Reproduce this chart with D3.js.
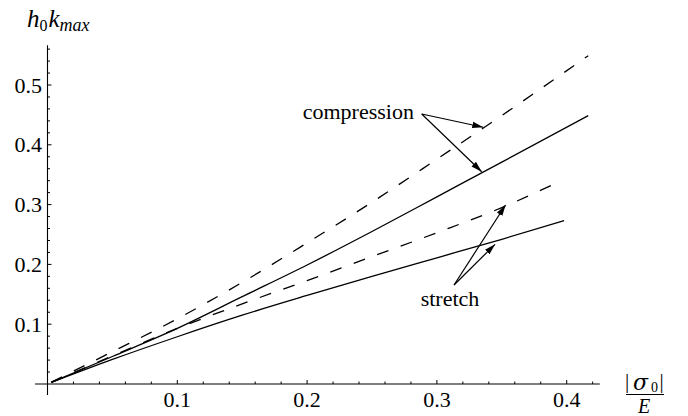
<!DOCTYPE html>
<html><head><meta charset="utf-8">
<script src="https://cdn.jsdelivr.net/npm/d3@7"></script>
</head>
<body style="margin:0"><svg id="chart" width="688" height="416"></svg>
<script>
// ---- data ----
const compressionX = [0.003, 0.05, 0.1, 0.15, 0.2, 0.25, 0.3, 0.35, 0.4166];
const compressionDashed = [0.0033, 0.054, 0.109, 0.170, 0.236, 0.304, 0.376, 0.449, 0.549];
const compressionSolid  = [0.0028, 0.046, 0.093, 0.146, 0.199, 0.255, 0.313, 0.371, 0.4487];
const stretchDashedX = [0.003, 0.05, 0.1, 0.15, 0.2, 0.25, 0.3, 0.35, 0.39];
const stretchDashed  = [0.0028, 0.047, 0.093, 0.134, 0.173, 0.213, 0.253, 0.295, 0.334];
const stretchSolidX  = [0.003, 0.05, 0.1, 0.15, 0.2, 0.25, 0.3, 0.35, 0.398];
const stretchSolid   = [0.0026, 0.041, 0.079, 0.115, 0.148, 0.180, 0.211, 0.242, 0.273];
const xTickLabels = ["0.1", "0.2", "0.3", "0.4"];
const yTickLabels = ["0.1", "0.2", "0.3", "0.4", "0.5"];
// annotation anchors (data coordinates)
const compressionLabel = {text: "compression", x: 0.1966, y: 0.443};
const compressionArrows = [
  {x0: 0.2883, y0: 0.4515, x1: 0.3357, y1: 0.4293},
  {x0: 0.2883, y0: 0.4515, x1: 0.3345, y1: 0.355}
];
const stretchLabel = {text: "stretch", x: 0.2875, y: 0.130};
const stretchArrows = [
  {x0: 0.3132, y0: 0.1656, x1: 0.3529, y1: 0.2993},
  {x0: 0.3132, y0: 0.1656, x1: 0.3448, y1: 0.2336}
];

// ---- scales ----
const x = d3.scaleLinear().domain([0, 0.4]).range([47.5, 566.7]);
const y = d3.scaleLinear().domain([0, 0.5]).range([384, 85]);
const xMin = -0.0096, xMax = 0.4255, yMin = -0.0185, yMax = 0.5665;

const svg = d3.select("#chart");
const addText = (sel, size, italic, fam) => {
  const f = fam || "Liberation Serif";
  const t = sel.append("text").attr("font-family", f).style("font-family", `"${f}"`).attr("font-size", size);
  if (italic) t.attr("font-style", "italic");
  return t;
};

// axes lines
svg.append("line").attr("x1", x(xMin)).attr("x2", x(xMax)).attr("y1", y(0)).attr("y2", y(0))
  .attr("stroke", "#000").attr("stroke-width", 1.1);
svg.append("line").attr("x1", x(0)).attr("x2", x(0)).attr("y1", y(yMin)).attr("y2", y(yMax))
  .attr("stroke", "#000").attr("stroke-width", 1.1);

// ticks
const xMinor = d3.range(1, 22).map(i => i * 0.02).filter(v => v <= xMax);
const yMinor = d3.range(1, 29).map(i => i * 0.02).filter(v => v <= yMax);
const isMajor = v => Math.abs(v * 10 - Math.round(v * 10)) < 1e-6;
svg.append("g").selectAll("line").data(xMinor).join("line")
  .attr("x1", d => x(d)).attr("x2", d => x(d))
  .attr("y1", y(0)).attr("y2", d => y(0) - (isMajor(d) ? 4 : 2.5))
  .attr("stroke", "#000").attr("stroke-width", 1);
svg.append("g").selectAll("line").data(yMinor).join("line")
  .attr("y1", d => y(d)).attr("y2", d => y(d))
  .attr("x1", x(0)).attr("x2", d => x(0) + (isMajor(d) ? 4 : 2.5))
  .attr("stroke", "#000").attr("stroke-width", 1);

// tick labels
xTickLabels.forEach(d => {
  addText(svg, 22, false).attr("x", x(+d)).attr("y", y(0) + 23).attr("text-anchor", "middle").text(d);
});
yTickLabels.forEach(d => {
  addText(svg, 22, false).attr("x", x(0) - 5.5).attr("y", y(+d) + 7.5).attr("text-anchor", "end").text(d);
});

// curves
const line = d3.line().x(d => x(d[0])).y(d => y(d[1])).curve(d3.curveMonotoneX);
const series = [
  {xs: compressionX, ys: compressionDashed, dash: "12,13"},
  {xs: compressionX, ys: compressionSolid, dash: null},
  {xs: stretchDashedX, ys: stretchDashed, dash: "12,13"},
  {xs: stretchSolidX, ys: stretchSolid, dash: null}
];
series.forEach(s => {
  const p = svg.append("path").datum(s.xs.map((v, i) => [v, s.ys[i]]))
    .attr("d", line).attr("fill", "none").attr("stroke", "#000").attr("stroke-width", 1.3);
  if (s.dash) p.attr("stroke-dasharray", s.dash);
});

// arrow marker
svg.append("defs").append("marker").attr("id", "ah")
  .attr("markerUnits", "userSpaceOnUse").attr("markerWidth", 12).attr("markerHeight", 8)
  .attr("refX", 11).attr("refY", 4).attr("orient", "auto")
  .append("path").attr("d", "M0,0.8 L11,4 L0,7.2 Z").attr("fill", "#000");

// annotations
[...compressionArrows, ...stretchArrows].forEach(a => {
  svg.append("line").attr("x1", x(a.x0)).attr("y1", y(a.y0)).attr("x2", x(a.x1)).attr("y2", y(a.y1))
    .attr("stroke", "#000").attr("stroke-width", 1.2).attr("marker-end", "url(#ah)");
});
[compressionLabel, stretchLabel].forEach(l => {
  addText(svg, 22, false).attr("x", x(l.x)).attr("y", y(l.y)).text(l.text);
});

// y-axis label  h_0 k_max
const yl = addText(svg, 25, false).attr("x", 27).attr("y", 27);
yl.append("tspan").attr("font-style", "italic").text("h");
yl.append("tspan").attr("font-size", 16).attr("dy", 4).text("0");
yl.append("tspan").attr("font-style", "italic").attr("dy", -4).attr("dx", 1).text("k");
yl.append("tspan").attr("font-style", "italic").attr("font-size", 18).attr("dy", 4).text("max");

// x-axis label |sigma_0| / E
addText(svg, 21, false).attr("x", 625).attr("y", 388).text("|");
addText(svg, 22, true, "DejaVu Serif").attr("x", 633).attr("y", 390).text("σ");
addText(svg, 14, false).attr("x", 651).attr("y", 392).text("0");
addText(svg, 21, false).attr("x", 659.5).attr("y", 388).text("|");
svg.append("line").attr("x1", 626).attr("x2", 664).attr("y1", 394.5).attr("y2", 394.5)
  .attr("stroke", "#000").attr("stroke-width", 1);
addText(svg, 20, true).attr("x", 638).attr("y", 413).text("E");
</script></body></html>
